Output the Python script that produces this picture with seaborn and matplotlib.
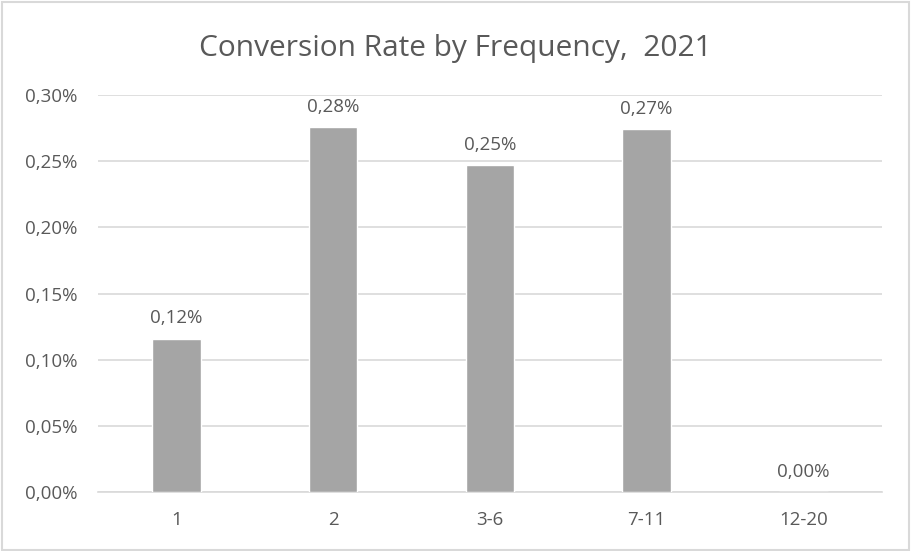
import matplotlib
matplotlib.use("Agg")
import matplotlib.pyplot as plt
import pandas as pd
import seaborn as sns
from matplotlib.ticker import FuncFormatter, MultipleLocator
from matplotlib.patches import Rectangle

# data (conversion rate in %)
frequency = ["1", "2", "3-6", "7-11", "12-20"]
conv_rate = [0.116, 0.276, 0.247, 0.274, 0.0]

df = pd.DataFrame({"Frequency": frequency, "Rate": conv_rate})

sns.set_theme(style="white")
plt.rcParams["font.family"] = ["Open Sans", "DejaVu Sans"]

text_col = "#595959"
grid_col = "#D9D9D9"
fsize = 13.5

fig = plt.figure(figsize=(9.11, 5.51), dpi=100)
ax = fig.add_axes([0.1076, 0.107, 0.8603, 0.7206])

sns.barplot(data=df, x="Frequency", y="Rate", color="#A5A5A5", saturation=1,
            width=0.31, ax=ax, zorder=3)

ax.set_ylim(0, 0.30)
ax.yaxis.set_major_locator(MultipleLocator(0.05))
ax.yaxis.set_major_formatter(FuncFormatter(lambda v, p: f"{v:.2f}%".replace(".", ",")))
ax.grid(axis="y", color=grid_col, linewidth=1.2, zorder=0)
ax.set_axisbelow(True)
for s in ["top", "right", "left"]:
    ax.spines[s].set_visible(False)
ax.spines["bottom"].set_color(grid_col)
ax.spines["bottom"].set_linewidth(1.2)
ax.tick_params(axis="both", length=0, labelsize=fsize, labelcolor=text_col)
ax.tick_params(axis="y", pad=15)
ax.tick_params(axis="x", pad=14)
ax.set_xlabel("")
ax.set_ylabel("")

for i, v in enumerate(conv_rate):
    ax.annotate(f"{v:.2f}%".replace(".", ","), (i, v), xytext=(0, 8),
                textcoords="offset points", ha="center", va="bottom",
                fontsize=fsize, color=text_col)

fig.text(0.5, 0.912, "Conversion Rate by Frequency,  2021", ha="center", va="center",
         fontsize=21.5, color=text_col)

fig.patches.append(Rectangle((0.002, 0.002), 0.996, 0.995, transform=fig.transFigure,
                             fill=False, edgecolor=grid_col, linewidth=1.5))

fig.savefig("out.png", dpi=100)
plt.close()
